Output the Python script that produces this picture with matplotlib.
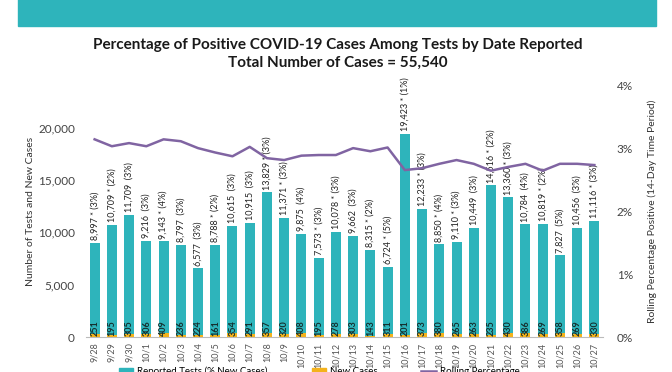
import matplotlib
matplotlib.use("Agg")
import matplotlib.pyplot as plt
from matplotlib.patches import Rectangle
from matplotlib.lines import Line2D

# --------------------------
# data
# --------------------------
dates = ["9/28", "9/29", "9/30", "10/1", "10/2", "10/3", "10/4", "10/5", "10/6", "10/7",
         "10/8", "10/9", "10/10", "10/11", "10/12", "10/13", "10/14", "10/15", "10/16", "10/17",
         "10/18", "10/19", "10/20", "10/21", "10/22", "10/23", "10/24", "10/25", "10/26", "10/27"]

tests = [8997, 10709, 11709, 9216, 9143, 8797, 6577, 8788, 10615, 10915,
         13829, 11371, 9875, 7573, 10078, 9662, 8315, 6724, 19423, 12233,
         8850, 9110, 10449, 14516, 13360, 10784, 10819, 7827, 10456, 11116]

# which test counts carry an asterisk
starred = [1, 1, 0, 0, 1, 0, 0, 1, 0, 0,
           1, 1, 0, 1, 1, 0, 1, 1, 1, 1,
           1, 1, 0, 1, 1, 0, 1, 0, 0, 1]

pct_new = [3, 2, 3, 3, 4, 3, 3, 2, 3, 3,
           3, 3, 4, 3, 3, 3, 2, 5, 1, 3,
           4, 3, 3, 2, 3, 4, 2, 5, 3, 3]

new_cases = [251, 195, 305, 306, 409, 236, 224, 161, 354, 291,
             357, 320, 408, 195, 278, 303, 143, 311, 201, 373,
             380, 265, 263, 235, 430, 386, 269, 358, 269, 330]

rolling_pct = [3.15, 3.04, 3.09, 3.04, 3.15, 3.12, 3.01, 2.94, 2.88, 3.03,
               2.85, 2.82, 2.89, 2.90, 2.90, 3.01, 2.96, 3.02, 2.66, 2.69,
               2.76, 2.82, 2.76, 2.65, 2.71, 2.76, 2.65, 2.76, 2.76, 2.74]

teal = "#2EB4BB"
orange = "#F4B21C"
purple = "#8064A2"

plt.rcParams["font.family"] = ["Lato", "DejaVu Sans"]

fig = plt.figure(figsize=(6.72, 3.72), dpi=100)

# teal header band at the top
fig.patches.append(Rectangle((18 / 672, 1 - 26 / 372), (656 - 18) / 672, 26 / 372 + 0.01,
                             transform=fig.transFigure, color=teal, zorder=0))

fig.text(0.502, 1 - 45 / 372, "Percentage of Positive COVID-19 Cases Among Tests by Date Reported",
         ha="center", va="center", fontsize=11, fontweight="bold", color="#1a1a1a")
fig.text(0.502, 1 - 63 / 372, "Total Number of Cases = 55,540",
         ha="center", va="center", fontsize=11, fontweight="bold", color="#1a1a1a")

ax = fig.add_axes([86 / 672, 35 / 372, (603 - 86) / 672, (337 - 86) / 372])
x = list(range(len(dates)))

ax.bar(x, tests, width=0.58, color=teal, zorder=2)
ax.bar(x, new_cases, width=0.58, color=orange, zorder=3)

ax.set_xlim(-0.5, len(dates) - 0.5)
ax.set_ylim(0, 24000)
ax.set_yticks([0, 5000, 10000, 15000, 20000])
ax.set_yticklabels(["0", "5,000", "10,000", "15,000", "20,000"])
ax.set_xticks(x)
ax.set_xticklabels(dates, rotation=90, fontsize=6.5, color="#555555")
ax.tick_params(axis="y", length=0, labelsize=8.5, colors="#444444", pad=8)
ax.tick_params(axis="x", length=0, pad=4)
ax.set_ylabel("Number of Tests and New Cases", fontsize=7.5, color="#333333", labelpad=2)
for s in ["top", "left", "right"]:
    ax.spines[s].set_visible(False)
ax.spines["bottom"].set_color("#bbbbbb")

for i in x:
    sep = " * " if starred[i] else "  "
    ax.text(i, tests[i] + 250, f"{tests[i]:,}{sep}({pct_new[i]}%)", rotation=90,
            ha="center", va="bottom", fontsize=6.5, color="#222222", zorder=5)
    ax.text(i + 0.02, 60, str(new_cases[i]), rotation=90, ha="center", va="bottom",
            fontsize=6.5, fontweight="bold", color="#15302f", zorder=5)

ax2 = ax.twinx()
ax2.plot(x, rolling_pct, color=purple, lw=1.8, zorder=4)
ax2.set_ylim(0, 4)
ax2.set_yticks([0, 1, 2, 3, 4])
ax2.set_yticklabels(["0%", "1%", "2%", "3%", "4%"])
ax2.tick_params(axis="y", length=0, labelsize=8.5, colors="#444444", pad=10)
ax2.set_ylabel("Rolling Percentage Positive (14-Day Time Period)", fontsize=7.5,
               color="#333333", labelpad=10)
for s in ["top", "left", "right", "bottom"]:
    ax2.spines[s].set_visible(False)

# legend, at the lower edge of the image as in the reference
handles = [Rectangle((0, 0), 1, 1, color=teal), Rectangle((0, 0), 1, 1, color=orange),
           Line2D([0], [0], color=purple, lw=1.8)]
fig.legend(handles, ["Reported Tests (% New Cases)", "New Cases", "Rolling Percentage"],
           loc="upper center", bbox_to_anchor=(0.475, 12 / 372), ncol=3, frameon=False,
           fontsize=7, handlelength=1.5, handleheight=0.5, columnspacing=4.5,
           handletextpad=0.4, borderpad=0.2)

fig.savefig("out.png", dpi=100)
